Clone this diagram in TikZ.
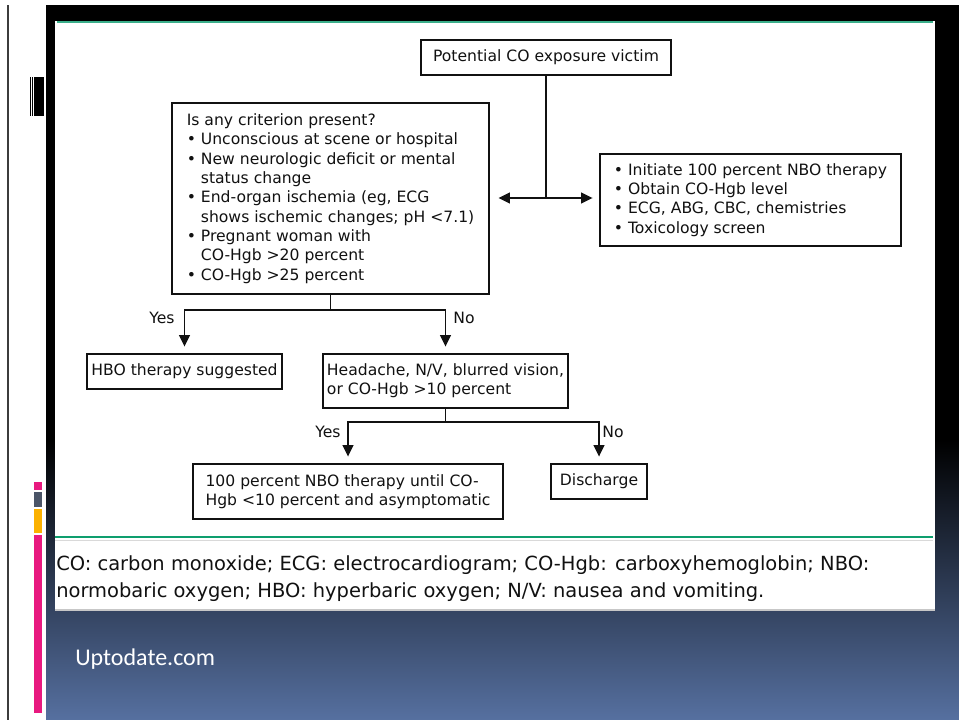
\documentclass[tikz,border=0pt]{standalone}
\usepackage{fontspec}
\setmainfont{DejaVu Sans}
\newfontfamily\slidefont{Carlito}
\usetikzlibrary{arrows.meta}

\definecolor{ink}{HTML}{111111}
\definecolor{rulegreen}{HTML}{0E9E6E}
\definecolor{topgreen}{HTML}{3AAE8A}
\definecolor{slideblue}{HTML}{5670A0}
\definecolor{barpink}{HTML}{E8197F}
\definecolor{bargray}{HTML}{4B5568}
\definecolor{barorange}{HTML}{FBB100}
\definecolor{edgegray}{HTML}{3C3C3C}

\begin{document}
% one unit = one pixel of the slide (0.75pt)
\begin{tikzpicture}[x=0.75pt, y=-0.75pt,
  >={Triangle[length=8.5pt, width=8pt]},
  box/.style={draw=ink, line width=1.15pt, align=left, inner sep=0pt,
              text=ink, font=\fontsize{11.7}{14.5}\selectfont},
  lbl/.style={text=ink, inner sep=0pt, font=\fontsize{11.7}{14.5}\selectfont},
  link/.style={draw=ink, line width=1.15pt},
  arr/.style={link, ->, shorten >=5pt},
  legend/.style={anchor=base west, inner sep=0pt, text=ink,
                 font=\fontsize{14.6}{17}\selectfont},
]
\useasboundingbox (0,0) rectangle (959,720);

% slide frame and background
\fill[white] (0,0) rectangle (959,720);
\fill[black] (7,5) rectangle (959,720);
\fill[edgegray] (7,5) rectangle (9,720);
\fill[white] (9,5) rectangle (46,720);
\shade[top color=black, bottom color=slideblue] (46,440) rectangle (959,720);

% decorations in the left strip
\fill[black] (30,77) rectangle (30.8,116);
\fill[black] (32,77) rectangle (32.8,116);
\fill[black] (33.6,77) rectangle (34.4,116);
\fill[black] (35,77) rectangle (43.8,116);
\fill[barpink]   (34,482) rectangle (42,490);
\fill[bargray]   (34,492) rectangle (42,507);
\fill[barorange] (34,509) rectangle (42,533);
\fill[barpink]   (34,535) rectangle (42,713);

% white panel with the algorithm
\fill[white] (55,21) rectangle (935,609);
\draw[black!22, line width=1.5pt] (55,610) -- (935,610);
\draw[topgreen, line width=1.1pt] (57,22) -- (933,22);
\draw[rulegreen, line width=2.2pt] (55,537) -- (933,537);
\draw[black!15, line width=0.75pt] (55,540) -- (933,540);

% boxes
\node[box, minimum width=187.5pt, minimum height=26.25pt] (victim) at (546,57.5)
  {Potential CO exposure victim};
\node[box, minimum width=237.75pt, minimum height=143.25pt] (criteria) at (330.5,198.5)
  {Is any criterion present?\\
   • Unconscious at scene or hospital\\
   • New neurologic deficit or mental\\
   \hphantom{•\ }status change\\
   • End-organ ischemia (eg, ECG\\
   \hphantom{•\ }shows ischemic changes; pH <7.1)\\
   • Pregnant woman with\\
   \hphantom{•\ }CO-Hgb >20 percent\\
   • CO-Hgb >25 percent};
\node[box, minimum width=225.75pt, minimum height=69pt] (workup) at (750.5,200)
  {• Initiate 100 percent NBO therapy\\
   • Obtain CO-Hgb level\\
   • ECG, ABG, CBC, chemistries\\
   • Toxicology screen};
\node[box, minimum width=146.25pt, minimum height=26.25pt] (hbo) at (184.5,371.5)
  {HBO therapy suggested};
\node[box, minimum width=183.75pt, minimum height=40.5pt] (symptoms) at (445.5,381)
  {Headache, N/V, blurred vision,\\or CO-Hgb >10 percent};
\node[box, minimum width=232.5pt, minimum height=41.25pt] (nbo) at (348,491.5)
  {100 percent NBO therapy until CO-\\Hgb <10 percent and asymptomatic};
\node[box, minimum width=72pt, minimum height=26.25pt] (discharge) at (599,481.5)
  {Discharge};

% branch points
\coordinate (split0) at (546,198);
\coordinate (split1) at (330.5,310);
\coordinate (split2) at (445.5,422);

% connectors
\draw[link, <->, shorten <=6.5pt, shorten >=5pt]
  (criteria.east |- split0) -- (workup.west |- split0);
\draw[link] (victim.south) -- (split0);
\draw[link] (criteria.south) -- (split1);
\draw[arr] (split1) -| (hbo.north);
\draw[arr] (split1) -| (symptoms.north);
\draw[link] (symptoms.south) -- (split2);
\draw[arr] (split2) -| (nbo.north);
\draw[arr] (split2) -| (discharge.north);

% branch labels
\node[lbl] (yes1) at (162,318) {Yes};
\node[lbl] (no1) at (464,318) {No};
\node[lbl] (yes2) at (328,432) {Yes};
\node[lbl] (no2) at (613,432) {No};

% abbreviations
\node[legend] (legend1) at (56,570)
  {CO: carbon monoxide; ECG: electrocardiogram; CO-Hgb: carboxyhemoglobin; NBO:};
\node[legend] (legend2) at (56,597)
  {normobaric oxygen; HBO: hyperbaric oxygen; N/V: nausea and vomiting.};

% source
\node[anchor=base west, inner sep=0pt, text=white,
      font=\slidefont\fontsize{18}{21}\selectfont] (source) at (75,665) {Uptodate.com};
\end{tikzpicture}
\end{document}
